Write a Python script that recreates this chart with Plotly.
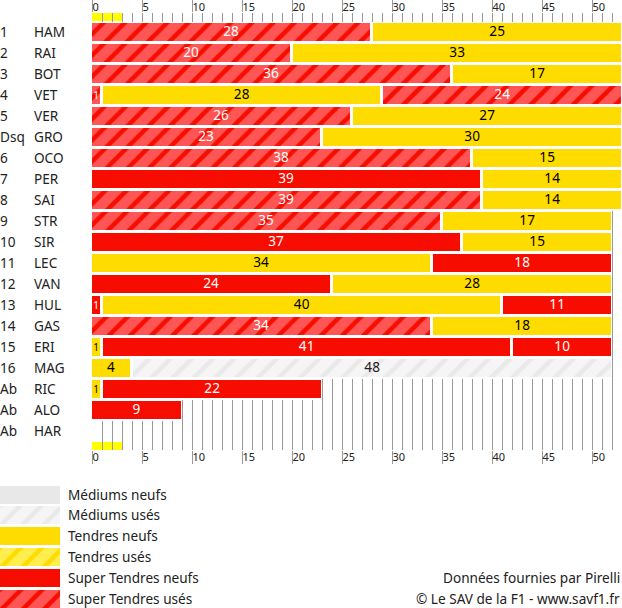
import plotly.graph_objs as go

# classement et pilotes
positions = ['1', '2', '3', '4', '5', 'Dsq', '6', '7', '8', '9', '10', '11', '12', '13', '14', '15', '16', 'Ab', 'Ab', 'Ab']
drivers = ['HAM', 'RAI', 'BOT', 'VET', 'VER', 'GRO', 'OCO', 'PER', 'SAI', 'STR', 'SIR', 'LEC', 'VAN', 'HUL', 'GAS', 'ERI', 'MAG', 'RIC', 'ALO', 'HAR']

# relais : nombre de tours et pneu
stint1_laps = [28, 20, 36, 1, 26, 23, 38, 39, 39, 35, 37, 34, 24, 1, 34, 1, 4, 1, 9, 0]
stint1_tyre = ['STu', 'STu', 'STu', 'STu', 'STu', 'STu', 'STu', 'STn', 'STu', 'STu', 'STn', 'Tn', 'STn', 'STn', 'STu', 'Tn', 'Tn', 'Tn', 'STn', 'STn']
stint2_laps = [25, 33, 17, 28, 27, 30, 15, 14, 14, 17, 15, 18, 28, 40, 18, 41, 48, 22, 0, 0]
stint2_tyre = ['Tn', 'Tn', 'Tn', 'Tn', 'Tn', 'Tn', 'Tn', 'Tn', 'Tn', 'Tn', 'Tn', 'STn', 'Tn', 'Tn', 'Tn', 'STn', 'Mu', 'STn', 'STn', 'STn']
stint3_laps = [0, 0, 0, 24, 0, 0, 0, 0, 0, 0, 0, 0, 0, 11, 0, 10, 0, 0, 0, 0]
stint3_tyre = ['STn', 'STn', 'STn', 'STu', 'STn', 'STn', 'STn', 'STn', 'STn', 'STn', 'STn', 'STn', 'STn', 'STn', 'STn', 'STn', 'STn', 'STn', 'STn', 'STn']

# tours sous voiture de sécurité
safety_laps = 3

legend_keys = ['Mn', 'Mu', 'Tn', 'Tu', 'STn', 'STu']
legend_labels = ['Médiums neufs', 'Médiums usés', 'Tendres neufs', 'Tendres usés', 'Super Tendres neufs', 'Super Tendres usés']

# couleurs : fond, rayure, texte
colors = {
    'Mn': ('#e8e8e8', '#e8e8e8', 'black'),
    'Mu': ('#f5f5f5', '#e9e9e9', '#222222'),
    'Tn': ('#ffdc00', '#ffdc00', 'black'),
    'Tu': ('#ffee4d', '#ffdc00', 'black'),
    'STn': ('#f70d00', '#f70d00', 'white'),
    'STu': ('#ff5555', '#f70d00', 'white'),
}

W, H = 622, 608
FONT = 'Noto Sans'
GRID = '#999999'
TEXT = '#222222'
ROW = 21
LABEL = 13.6


def tyre_marker(key):
    return dict(
        color=colors[key][0],
        line=dict(width=0),
        pattern=dict(
            shape='/' if key.endswith('u') else '',
            bgcolor=colors[key][0],
            fgcolor=colors[key][1],
            fgopacity=1,
            size=15,
            solidity=0.3,
        ),
    )


rows = list(range(len(drivers)))
fig = go.Figure()

# fond blanc des lignes, cache la grille
totals = [a + b + c for a, b, c in zip(stint1_laps, stint2_laps, stint3_laps)]
fig.add_trace(go.Bar(x=[max(t - 0.1, 0) for t in totals], y=rows, orientation='h', width=1,
                     marker=dict(color='white', line=dict(width=0)), hoverinfo='skip', showlegend=False))

# on regroupe les relais par pneu, petit blanc entre chaque
segments = {k: [] for k in legend_keys}
done = [0] * len(drivers)
for laps, tyres in [(stint1_laps, stint1_tyre), (stint2_laps, stint2_tyre), (stint3_laps, stint3_tyre)]:
    for i in rows:
        if laps[i] > 0:
            start = done[i] + 0.13 if done[i] > 0 else 0
            stop = done[i] + laps[i]
            end = stop - 0.1 if stop == totals[i] else stop - 0.2
            segments[tyres[i]].append((i, start, end, laps[i]))
    done = [d + l for d, l in zip(done, laps)]

for key in legend_keys:
    segs = segments[key]
    if not segs:
        continue
    fig.add_trace(go.Bar(x=[s[2] - s[1] for s in segs], y=[s[0] for s in segs], base=[s[1] for s in segs],
                         orientation='h', width=18 / ROW, xaxis='x2', marker=tyre_marker(key), showlegend=False))
    # le texte descend d'un pixel pour tomber au milieu de la barre
    fig.add_trace(go.Scatter(x=[(s[1] + s[2]) / 2 for s in segs], y=[s[0] + 1 / ROW for s in segs], xaxis='x2', mode='text',
                             text=[str(s[3]) for s in segs],
                             textfont=dict(family=FONT, color=colors[key][2], size=[10 if s[3] == 1 else LABEL for s in segs]),
                             showlegend=False))

# légende
for i, key in enumerate(legend_keys):
    fig.add_trace(go.Bar(x=[1], y=[i], orientation='h', width=18 / ROW,
                         xaxis='x3', yaxis='y3', marker=tyre_marker(key), showlegend=False))

axis_x = dict(range=[0, 53], dtick=5, tick0=0, showgrid=True, gridcolor=GRID, gridwidth=1,
              zeroline=False, ticks='outside', ticklen=13, tickcolor=GRID, tickwidth=1,
              ticklabelposition='outside right', ticklabelstandoff=-3,
              tickfont=dict(family=FONT, size=11, color=TEXT),
              minor=dict(dtick=1, showgrid=True, gridcolor=GRID, gridwidth=1),
              domain=[92 / W, 1])

fig.update_layout(
    width=W, height=H,
    margin=dict(l=0, r=0, t=0, b=0),
    paper_bgcolor='white', plot_bgcolor='white',
    barmode='overlay',
    bargap=0,
    showlegend=False,
    xaxis=dict(axis_x, side='bottom', anchor='y'),
    xaxis2=dict(axis_x, side='top', overlaying='x', anchor='y'),
    yaxis=dict(range=[(450 - 32) / ROW, (13 - 32) / ROW], visible=False,
               domain=[(H - 450) / H, (H - 13) / H]),
    xaxis3=dict(range=[0, 1], visible=False, domain=[0, 60 / W], anchor='y3'),
    yaxis3=dict(range=[5.43, -0.5], visible=False, domain=[0, (H - 483.5) / H], anchor='x3'),
    shapes=[dict(type='rect', layer='below', xref='x', yref='y', x0=0, x1=safety_laps,
                 y0=(13 - 32) / ROW, y1=(21 - 32) / ROW, fillcolor='#ffff00', line=dict(width=0)),
            dict(type='rect', layer='below', xref='x', yref='y', x0=0, x1=safety_laps,
                 y0=(442 - 32) / ROW, y1=(450 - 32) / ROW, fillcolor='#ffff00', line=dict(width=0))],
)

notes = []
for i in rows:
    notes.append(dict(text=positions[i], x=0, y=i, xref='paper', yref='y', xanchor='left', showarrow=False,
                      xshift=-2, yshift=1, font=dict(family=FONT, size=LABEL, color=TEXT)))
    notes.append(dict(text=drivers[i], x=34 / W, y=i, xref='paper', yref='y', xanchor='left', showarrow=False,
                      xshift=-2, yshift=1, font=dict(family=FONT, size=LABEL, color=TEXT)))
for i, lab in enumerate(legend_labels):
    notes.append(dict(text=lab, x=68 / W, y=i, xref='paper', yref='y3', xanchor='left', showarrow=False,
                      xshift=-2, font=dict(family=FONT, size=LABEL, color=TEXT)))
notes.append(dict(text='Données fournies par Pirelli', x=622 / W, y=4, xref='paper', yref='y3', xanchor='right',
                  showarrow=False, font=dict(family=FONT, size=LABEL, color=TEXT)))
notes.append(dict(text='© Le SAV de la F1 - www.savf1.fr', x=622 / W, y=5, xref='paper', yref='y3', xanchor='right',
                  showarrow=False, font=dict(family=FONT, size=LABEL, color=TEXT)))
fig.update_layout(annotations=notes)

# la page garde sa marge par défaut sinon
fig.write_html("out.html", config=dict(displayModeBar=False), post_script="document.body.style.margin='0';")
